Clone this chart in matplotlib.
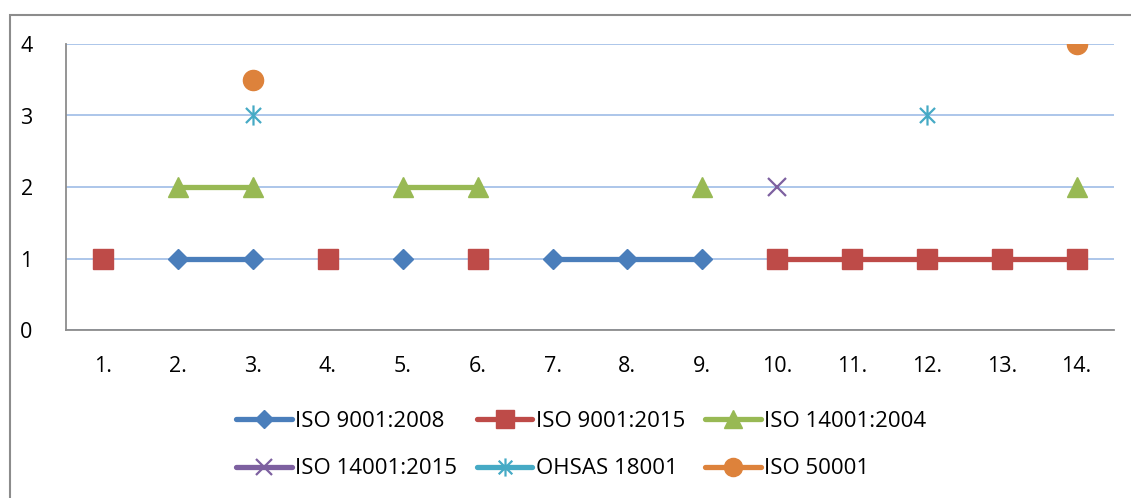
"""
ISO 認證折線圖 (Excel 風格)
"""
import matplotlib
matplotlib.use('Agg')
import matplotlib.pyplot as plt
import matplotlib.patches as patches
from matplotlib.path import Path
import numpy as np

plt.rcParams['font.family'] = ['Open Sans', 'DejaVu Sans']

nan = np.nan

# 類別與數據
categories = ['1.', '2.', '3.', '4.', '5.', '6.', '7.', '8.', '9.', '10.', '11.', '12.', '13.', '14.']
iso9001_2008 = [nan, 1, 1, nan, 1, nan, 1, 1, 1, nan, nan, nan, nan, nan]
iso9001_2015 = [1, nan, nan, 1, nan, 1, nan, nan, nan, 1, 1, 1, 1, 1]
iso14001_2004 = [nan, 2, 2, nan, 2, 2, nan, nan, 2, nan, nan, nan, nan, 2]
iso14001_2015 = [nan, nan, nan, nan, nan, nan, nan, nan, nan, 2, nan, nan, nan, nan]
ohsas18001 = [nan, nan, 3, nan, nan, nan, nan, nan, nan, nan, nan, 3, nan, nan]
iso50001 = [nan, nan, 3.5, nan, nan, nan, nan, nan, nan, nan, nan, nan, nan, 4]

# Excel 星號標記：直線 + 叉
star_path = Path(
    [(0, -1), (0, 1), (-0.75, -0.75), (0.75, 0.75), (-0.75, 0.75), (0.75, -0.75)],
    [Path.MOVETO, Path.LINETO, Path.MOVETO, Path.LINETO, Path.MOVETO, Path.LINETO],
)

series = [
    ('ISO 9001:2008', iso9001_2008, '#4A7EBB', 'D', 10, 1),
    ('ISO 9001:2015', iso9001_2015, '#BE4B48', 's', 14.5, 1),
    ('ISO 14001:2004', iso14001_2004, '#98B954', '^', 14.5, 1),
    ('ISO 14001:2015', iso14001_2015, '#7D60A0', 'x', 13, 1.6),
    ('OHSAS 18001', ohsas18001, '#46AAC5', star_path, 14.5, 1.6),
    ('ISO 50001', iso50001, '#DD823B', 'o', 14.5, 1),
]

fig = plt.figure(figsize=(11.31, 4.98), dpi=100)

# 外框
border = patches.Rectangle((10 / 1131, -0.1), 1.2, (498 - 15) / 498 + 0.1,
                           transform=fig.transFigure, fill=False,
                           edgecolor='#8C8C8C', linewidth=1.5)
fig.add_artist(border)

ax = fig.add_axes([66 / 1131, 1 - 330 / 498, (1114 - 66) / 1131, (330 - 44) / 498])

x = np.arange(1, len(categories) + 1)
handles = []
for label, values, color, marker, ms, mew in series:
    h, = ax.plot(x, values, color=color, linewidth=3.8, marker=marker,
                 markersize=ms, markeredgewidth=mew,
                 markeredgecolor=color, markerfacecolor=color, label=label,
                 solid_capstyle='round', zorder=3)
    handles.append(h)

ax.set_xlim(0.5, len(categories) + 0.5)
ax.set_ylim(0, 4)
ax.set_yticks([0, 1, 2, 3, 4])
ax.set_xticks(x)
ax.set_xticklabels(categories)
ax.yaxis.grid(True, color='#A6C1E8', linewidth=1.3)
ax.set_axisbelow(True)
ax.tick_params(axis='both', length=0, labelsize=15.5)
ax.tick_params(axis='x', pad=19)
ax.tick_params(axis='y', pad=24)

for side in ('top', 'right'):
    ax.spines[side].set_visible(False)
for side in ('left', 'bottom'):
    ax.spines[side].set_color('#8C8C8C')
    ax.spines[side].set_linewidth(1.3)

# 圖例 (逐列排列)
order = [0, 3, 1, 4, 2, 5]
fig.legend([handles[i] for i in order], [series[i][0] for i in order],
           ncol=3, loc='center', bbox_to_anchor=(581 / 1131, 1 - 445 / 498),
           frameon=False, fontsize=16, handlelength=2.5, handletextpad=0.15,
           columnspacing=0.9, labelspacing=1.2, markerscale=0.9,
           borderpad=0, borderaxespad=0)

fig.savefig('out.png', dpi=100)
